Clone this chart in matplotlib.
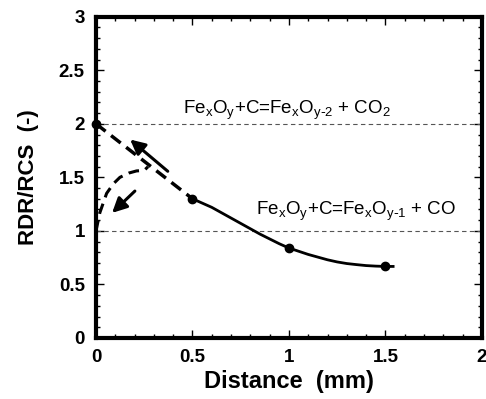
import matplotlib.pyplot as plt
from matplotlib.ticker import MultipleLocator

plt.rcParams['font.family'] = ['Liberation Sans', 'DejaVu Sans']

# measured points
pt_x = [0.0, 0.5, 1.0, 1.5]
pt_y = [2.0, 1.3, 0.84, 0.67]

# solid fitted curve
fit_x = [0.5, 0.55, 0.6, 0.65, 0.7, 0.75, 0.8, 0.85, 0.9, 0.95, 1.0, 1.05,
         1.1, 1.15, 1.2, 1.25, 1.3, 1.35, 1.4, 1.45, 1.5, 1.54]
fit_y = [1.3, 1.26, 1.22, 1.17, 1.12, 1.07, 1.02, 0.97, 0.925, 0.88, 0.84, 0.81,
         0.78, 0.755, 0.73, 0.71, 0.695, 0.685, 0.676, 0.671, 0.668, 0.668]

# dashed lines near the surface
dash1_x = [0.0, 0.5]
dash1_y = [2.0, 1.3]
dash2_x = [0.0, 0.02, 0.055, 0.09, 0.124, 0.17, 0.21, 0.25, 0.27]
dash2_y = [1.0, 1.17, 1.35, 1.44, 1.50, 1.54, 1.56, 1.565, 1.6]

fig = plt.figure(figsize=(4.86, 3.99), dpi=100)
ax = fig.add_axes([0.1975, 0.153, 0.794, 0.805])

ax.axhline(2, color='#555555', lw=0.8, ls=(0, (4, 3)))
ax.axhline(1, color='#555555', lw=0.8, ls=(0, (4, 3)))

ax.plot(fit_x, fit_y, color='black', lw=2)
ax.plot(dash1_x, dash1_y, color='black', lw=2.5, ls=(0, (3.5, 2)))
ax.plot(dash2_x, dash2_y, color='black', lw=2.2, ls=(0, (3.5, 2.2)))
ax.plot(pt_x, pt_y, 'o', color='black', ms=6, clip_on=False, zorder=5)

ax.annotate('', xy=(0.166, 1.87), xytext=(0.383, 1.54),
            arrowprops=dict(arrowstyle='-|>', color='black', lw=2.2, mutation_scale=22))
ax.annotate('', xy=(0.073, 1.15), xytext=(0.212, 1.39),
            arrowprops=dict(arrowstyle='-|>', color='black', lw=2.2, mutation_scale=22))

ax.text(0.99, 2.13, r'Fe$_\mathregular{x}$O$_\mathregular{y}$+C=Fe$_\mathregular{x}$O$_\mathregular{y\text{-}2}$ + CO$_\mathregular{2}$',
        ha='center', va='center', fontsize=13.5)
ax.text(1.35, 1.18, r'Fe$_\mathregular{x}$O$_\mathregular{y}$+C=Fe$_\mathregular{x}$O$_\mathregular{y\text{-}1}$ + CO',
        ha='center', va='center', fontsize=13.5)

ax.set_xlim(0, 2)
ax.set_ylim(0, 3)
ax.xaxis.set_minor_locator(MultipleLocator(0.1))
ax.yaxis.set_minor_locator(MultipleLocator(0.1))
ax.set_xticks([0, 0.5, 1, 1.5, 2])
ax.set_yticks([0, 0.5, 1, 1.5, 2, 2.5, 3])
ax.set_xticklabels(['0', '0.5', '1', '1.5', '2'])
ax.set_yticklabels(['0', '0.5', '1', '1.5', '2', '2.5', '3'])
ax.tick_params(which='both', direction='in', top=True, right=True, width=1)
ax.tick_params(which='major', length=6, labelsize=13.5)
ax.tick_params(which='minor', length=3)
ax.tick_params(axis='x', which='major', pad=8)
ax.tick_params(axis='y', which='major', pad=8)
for lab in ax.get_xticklabels() + ax.get_yticklabels():
    lab.set_fontweight('bold')
for s in ax.spines.values():
    s.set_linewidth(3)

ax.set_xlabel('Distance  (mm)', fontsize=17, fontweight='bold', labelpad=3)
ax.set_ylabel('RDR/RCS  (-)', fontsize=16, fontweight='bold', labelpad=14)

fig.savefig('out.png', dpi=100)
